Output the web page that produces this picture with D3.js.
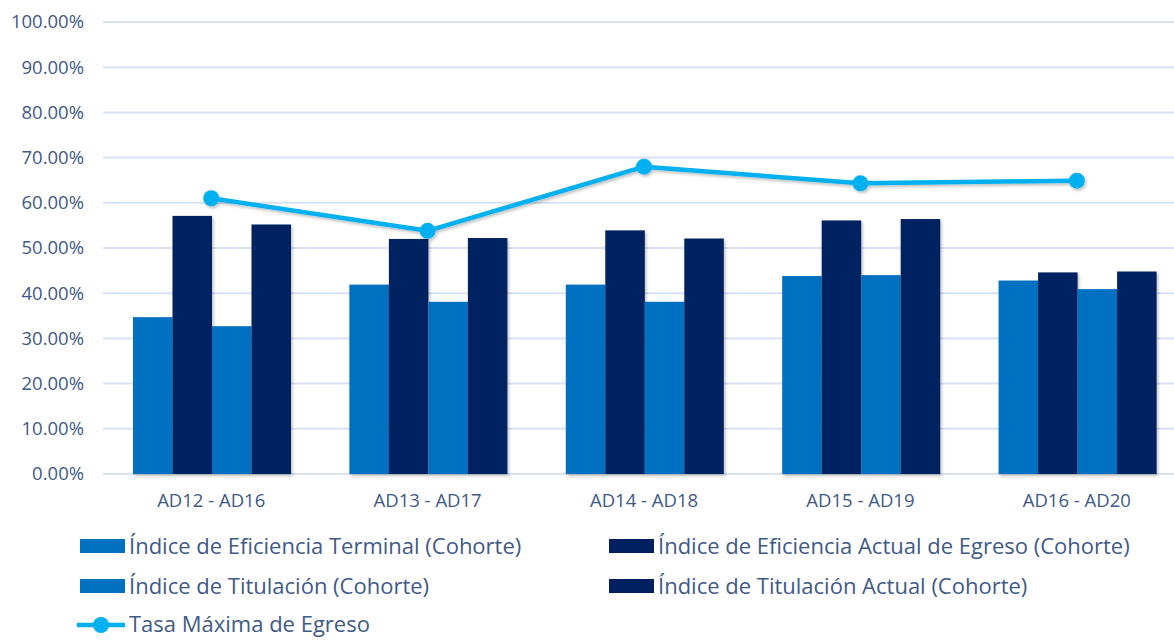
<!DOCTYPE html>
<html>
<head>
<meta charset="utf-8">
<script src="https://cdn.jsdelivr.net/npm/d3@7"></script>
<style>
  body { margin: 0; background: #fff; }
  svg { display: block; font-family: "Open Sans", sans-serif; }
</style>
</head>
<body>
<svg></svg>
<script>
// chart data
var categories = ['AD12 - AD16', 'AD13 - AD17', 'AD14 - AD18', 'AD15 - AD19', 'AD16 - AD20']
var seriesNames = [
    'Índice de Eficiencia Terminal (Cohorte)',
    'Índice de Eficiencia Actual de Egreso (Cohorte)',
    'Índice de Titulación (Cohorte)',
    'Índice de Titulación Actual (Cohorte)'
]
var eficienciaTerminal = [0.347, 0.419, 0.419, 0.438, 0.428]
var eficienciaActual = [0.571, 0.520, 0.539, 0.561, 0.446]
var titulacion = [0.327, 0.381, 0.381, 0.440, 0.409]
var titulacionActual = [0.552, 0.522, 0.521, 0.564, 0.448]
var lineName = 'Tasa Máxima de Egreso'
var tasaMaxima = [0.610, 0.538, 0.680, 0.643, 0.649]
var yTicks = [0, 0.1, 0.2, 0.3, 0.4, 0.5, 0.6, 0.7, 0.8, 0.9, 1.0]

var barColors = ['#0070c0', '#002060', '#0070c0', '#002060']
var lineColor = '#00b0f0'
var textColor = '#3f5a86'
var gridColor = '#d9e2f3'

document.addEventListener("DOMContentLoaded", function(event) {
    drawChart()
});

function drawChart() {
    var svgWidth = 1174, svgHeight = 640;
    var svg = d3.select('svg')
        .attr("width", svgWidth)
        .attr("height", svgHeight);

    // soft shadow like the office chart
    var defs = svg.append("defs")
    var f = defs.append("filter").attr("id", "shadow")
        .attr("x", "-20%").attr("y", "-20%").attr("width", "140%").attr("height", "140%")
    f.append("feDropShadow")
        .attr("dx", 1.5).attr("dy", 2).attr("stdDeviation", 1.5)
        .attr("flood-color", "#000").attr("flood-opacity", 0.25)

    var allSeries = [eficienciaTerminal, eficienciaActual, titulacion, titulacionActual]

    // scales
    var x0 = d3.scaleBand().domain(categories).range([103, 1185]).padding(0)
    var x1 = d3.scaleBand().domain(d3.range(seriesNames.length)).range([30, 188]).padding(0)
    var y = d3.scaleLinear().domain([0, 1]).range([474, 22])

    // grid lines
    svg.append("g")
        .selectAll("line")
        .data(yTicks)
        .join("line")
        .attr("x1", 103)
        .attr("x2", svgWidth)
        .attr("y1", function(d) { return y(d) })
        .attr("y2", function(d) { return y(d) })
        .attr("stroke", gridColor)
        .attr("stroke-width", 2)

    // y axis labels
    var yAxis = svg.append("g")
        .attr("transform", "translate(84,0)")
        .call(d3.axisLeft(y).tickValues(yTicks).tickFormat(d3.format(".2%")).tickSize(0))
    yAxis.select(".domain").remove()
    yAxis.selectAll("text")
        .attr("fill", textColor)
        .attr("font-size", "18.5px")
        .attr("font-family", "Open Sans, sans-serif")
        .attr("x", 0)

    // x axis labels
    var xAxis = svg.append("g")
        .attr("transform", "translate(0,474)")
        .call(d3.axisBottom(x0).tickSize(0))
    xAxis.select(".domain").remove()
    xAxis.selectAll("text")
        .attr("fill", textColor)
        .attr("font-size", "18.5px")
        .attr("font-family", "Open Sans, sans-serif")
        .attr("dy", "0")
        .attr("y", 33)

    // bars
    var groups = svg.append("g")
        .selectAll("g")
        .data(categories)
        .join("g")
        .attr("transform", function(d) { return "translate(" + x0(d) + ",0)" })

    groups.selectAll("rect")
        .data(function(d, i) {
            return allSeries.map(function(s, k) { return { k: k, v: s[i] } })
        })
        .join("rect")
        .attr("x", function(d) { return x1(d.k) })
        .attr("width", x1.bandwidth())
        .attr("y", function(d) { return y(d.v) })
        .attr("height", function(d) { return y(0) - y(d.v) })
        .attr("fill", function(d) { return barColors[d.k] })
        .attr("filter", "url(#shadow)")

    // line series
    var line = d3.line()
        .x(function(d, i) { return x0(categories[i]) + x0.bandwidth() / 2 })
        .y(function(d) { return y(d) })

    var lineG = svg.append("g").attr("filter", "url(#shadow)")
    lineG.append("path")
        .datum(tasaMaxima)
        .attr("fill", "none")
        .attr("stroke", lineColor)
        .attr("stroke-width", 4.5)
        .attr("stroke-linejoin", "round")
        .attr("d", line)
    lineG.selectAll("circle")
        .data(tasaMaxima)
        .join("circle")
        .attr("cx", function(d, i) { return x0(categories[i]) + x0.bandwidth() / 2 })
        .attr("cy", function(d) { return y(d) })
        .attr("r", 8)
        .attr("fill", lineColor)

    // legend
    var legendPos = [[80, 546], [609, 546], [80, 586], [609, 586]]
    var legend = svg.append("g")
    seriesNames.forEach(function(name, k) {
        var p = legendPos[k]
        legend.append("rect")
            .attr("x", p[0]).attr("y", p[1] - 7)
            .attr("width", 45).attr("height", 14)
            .attr("fill", barColors[k])
        legend.append("text")
            .attr("x", p[0] + 49).attr("y", p[1])
            .attr("dy", "0.35em")
            .attr("fill", textColor)
            .attr("font-size", "22px")
            .text(name)
    })
    legend.append("line")
        .attr("x1", 77).attr("x2", 125)
        .attr("y1", 625).attr("y2", 625)
        .attr("stroke", lineColor).attr("stroke-width", 4.5)
    legend.append("circle")
        .attr("cx", 101).attr("cy", 625).attr("r", 8)
        .attr("fill", lineColor)
    legend.append("text")
        .attr("x", 129).attr("y", 624)
        .attr("dy", "0.35em")
        .attr("fill", textColor)
        .attr("font-size", "22px")
        .text(lineName)
}
</script>
</body>
</html>
